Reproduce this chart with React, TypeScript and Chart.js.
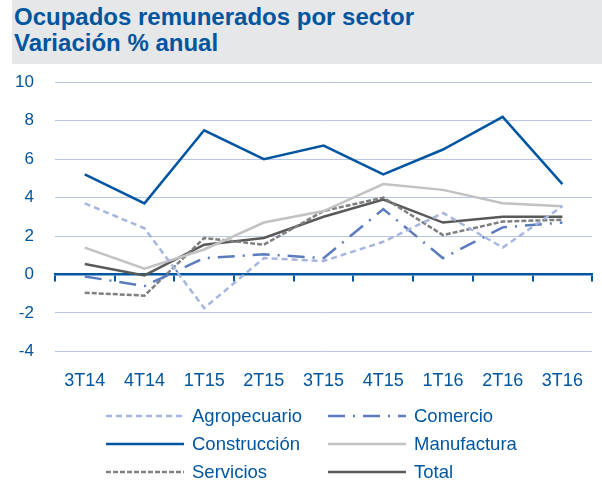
import React, { useEffect, useRef } from "react";
import { Chart, registerables } from "chart.js";

Chart.register(...registerables);

const categories = ["3T14", "4T14", "1T15", "2T15", "3T15", "4T15", "1T16", "2T16", "3T16"];
const agropecuario = [3.7, 2.4, -1.75, 0.85, 0.7, 1.7, 3.2, 1.4, 3.55];
const comercio = [-0.1, -0.6, 0.85, 1.05, 0.85, 3.4, 0.85, 2.45, 2.7];
const construccion = [5.2, 3.7, 7.5, 6.0, 6.7, 5.2, 6.5, 8.2, 4.7];
const manufactura = [1.4, 0.3, 1.3, 2.7, 3.3, 4.7, 4.4, 3.7, 3.55];
const servicios = [-0.95, -1.1, 1.9, 1.55, 3.3, 4.0, 2.05, 2.75, 2.85];
const total = [0.55, -0.05, 1.55, 1.9, 3.0, 3.9, 2.7, 3.0, 3.0];
const yTicks = [-4, -2, 0, 2, 4, 6, 8, 10];

const BLUE = "#00559f";
const FONT = "'Liberation Sans', Arial, sans-serif";

const series = [
  { label: "Agropecuario", data: agropecuario, color: "#a7b6df", dash: [6, 4] },
  { label: "Comercio", data: comercio, color: "#5b7bbf", dash: [17, 8, 2, 8] },
  { label: "Construcción", data: construccion, color: "#0055a0", dash: [] as number[] },
  { label: "Manufactura", data: manufactura, color: "#c2c2c2", dash: [] as number[] },
  { label: "Servicios", data: servicios, color: "#7f7f7f", dash: [5, 2] },
  { label: "Total", data: total, color: "#595959", dash: [] as number[] },
];

export default function App() {
  const ref = useRef<HTMLCanvasElement | null>(null);

  useEffect(() => {
    if (!ref.current) return;
    const chart = new Chart(ref.current, {
      type: "line",
      data: {
        labels: categories,
        datasets: series.map((s) => ({
          label: s.label,
          data: s.data,
          borderColor: s.color,
          backgroundColor: s.color,
          borderWidth: 2.5,
          borderDash: s.dash,
          pointRadius: 0,
          tension: 0,
          fill: false,
        })),
      },
      options: {
        animation: false,
        responsive: true,
        maintainAspectRatio: false,
        layout: { padding: { top: 16, left: 16, right: 2, bottom: 4 } },
        plugins: { legend: { display: false }, tooltip: { enabled: false } },
        scales: {
          x: {
            type: "category",
            offset: true,
            grid: { display: false, drawTicks: false },
            border: { display: false },
            ticks: { color: BLUE, font: { family: FONT, size: 18 }, padding: 19, maxRotation: 0 },
          },
          xz: {
            type: "category",
            labels: categories,
            position: { y: 0 },
            offset: true,
            grid: {
              offset: true,
              drawOnChartArea: false,
              drawTicks: true,
              tickLength: 6,
              color: BLUE,
              lineWidth: 2,
            },
            border: { display: true, color: BLUE, width: 2.5 },
            ticks: { display: false },
          },
          y: {
            min: -4,
            max: 10,
            afterBuildTicks: (axis: any) => {
              axis.ticks = yTicks.map((v) => ({ value: v }));
            },
            grid: { color: "#b9c5e3", lineWidth: 1, drawTicks: false },
            border: { display: false },
            ticks: { color: BLUE, font: { family: FONT, size: 17 }, padding: 21 },
          },
        },
      } as any,
    });
    return () => chart.destroy();
  }, []);

  return (
    <div style={{ position: "fixed", left: 0, top: 0, width: 602, height: 487, background: "#fff", fontFamily: FONT, overflow: "hidden" }}>
      <div
        style={{
          position: "absolute",
          left: 12,
          top: 0,
          width: 590,
          height: 64,
          background: "#e6e7e9",
        }}
      >
        <div
          style={{
            position: "absolute",
            left: 2,
            top: 4,
            color: BLUE,
            fontWeight: "bold",
            fontSize: 24,
            lineHeight: "26px",
            whiteSpace: "nowrap",
          }}
        >
          Ocupados remunerados por sector
          <br />
          Variación % anual
        </div>
      </div>
      <div style={{ position: "absolute", left: -22, top: 51, width: 624, height: 364 }}>
        <canvas ref={ref} />
      </div>
      {series.map((s, i) => {
        const col = i % 2;
        const row = Math.floor(i / 2);
        const lineLeft = col === 0 ? 106 : 328;
        const top = 416 + row * 28;
        return (
          <div key={s.label} style={{ position: "absolute", left: lineLeft, top: top - 12, height: 24, display: "flex", alignItems: "center" }}>
            <svg width={78} height={6} style={{ display: "block" }}>
              <line x1={0} y1={3} x2={78} y2={3} stroke={s.color} strokeWidth={2.5} strokeDasharray={s.dash.length ? s.dash.join(" ") : undefined} />
            </svg>
            <span style={{ marginLeft: 8, color: BLUE, fontSize: 18.5, lineHeight: "24px", whiteSpace: "nowrap" }}>{s.label}</span>
          </div>
        );
      })}
    </div>
  );
}
